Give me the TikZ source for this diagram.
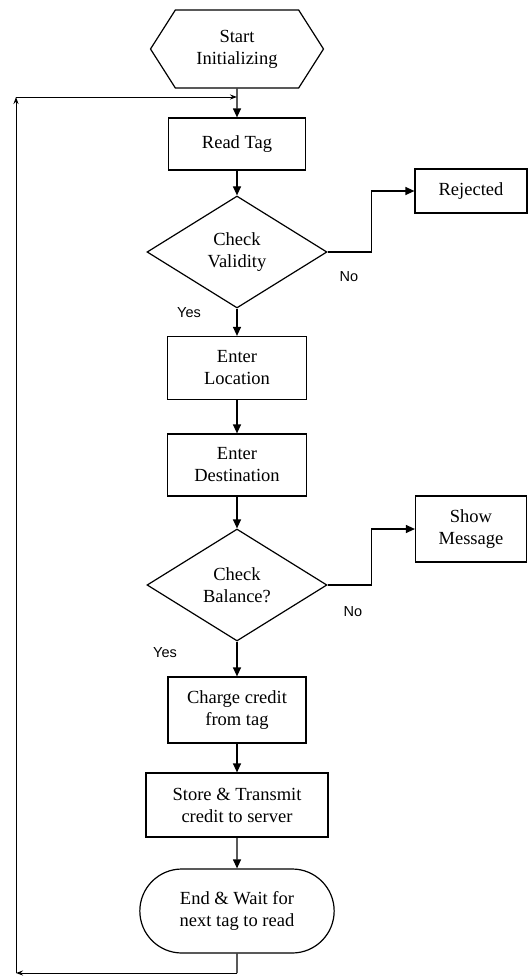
\documentclass[tikz,border=0pt]{standalone}
\usepackage{fontspec}
\setmainfont{Liberation Serif}
\newfontfamily\answerfont{Liberation Sans}
\usetikzlibrary{shapes.geometric,shapes.misc,shapes.symbols,arrows.meta}

\begin{document}
\begin{tikzpicture}[x=1pt,y=-1pt,
    line width=1.2pt,
    font=\fontsize{18.5}{22}\selectfont,
    box/.style={draw, rectangle, align=center, inner sep=2pt},
    decision/.style={draw, diamond, align=center, minimum width=180pt, minimum height=112pt, inner sep=0pt},
    hexa/.style={draw, signal, signal to=west and east, signal pointer angle=115, align=center, minimum width=173pt, minimum height=78pt},
    flow/.style={-{Triangle[length=9pt,width=8pt]}},
    loopline/.style={-{Stealth[length=7pt,width=5pt]}, line width=1pt},
    answer/.style={font=\answerfont\fontsize{14.5}{16}\selectfont}]
        \useasboundingbox (0,0) rectangle (529,977);

        % main column
        \node[hexa] (start) at (237,49) {Start\\Initializing};
        \node[box, minimum width=137pt, minimum height=52pt] (read) at (237,144) {Read Tag};
        \node[decision] (valid) at (237,252) {Check\\Validity};
        \node[box, minimum width=139pt, minimum height=63pt] (loc) at (237,368) {Enter\\Location};
        \node[box, minimum width=139pt, minimum height=62pt] (dest) at (237,465) {Enter\\Destination};
        \node[decision] (bal) at (237,585) {Check\\Balance?};
        \node[box, minimum width=138pt, minimum height=66pt] (charge) at (237,710) {Charge credit\\from tag};
        \node[box, minimum width=182pt, minimum height=64pt] (store) at (237,805) {Store \& Transmit\\credit to server};
        \node[draw, rounded rectangle, align=center, minimum width=201pt, minimum height=84pt] (finish) at (237,911) {End \& Wait for\\next tag to read};

        % side boxes
        \node[box, minimum width=112pt, minimum height=44pt] (rej) at (471,191) {Rejected};
        \node[box, minimum width=111pt, minimum height=66pt] (msg) at (471,529) {Show\\Message};

        % answers
        \node[answer] (yes1) at (189,313) {Yes};
        \node[answer] (no1) at (349,277) {No};
        \node[answer] (yes2) at (165,653) {Yes};
        \node[answer] (no2) at (353,612) {No};

        % loop corners
        \coordinate (retTop) at (237,97);
        \coordinate (retBot) at (237,973);
        \coordinate (cornerTL) at (16,97);
        \coordinate (cornerBL) at (16,973);

        % arrows
        \draw[flow] (start) -- (read);
        \draw[flow] (read) -- (valid);
        \draw[flow] (valid) -- (loc);
        \draw[flow] (valid.east) -- ++(44,0) |- (rej);
        \draw[flow] (loc) -- (dest);
        \draw[flow] (dest) -- (bal);
        \draw[flow] (bal.east) -- ++(44,0) |- (msg);
        \draw[flow] (bal) -- (charge);
        \draw[flow] (charge) -- (store);
        \draw[flow] (store) -- (finish);

        % back to start
        \draw (finish) -- (retBot);
        \draw[loopline] (retBot) -- (cornerBL);
        \draw[loopline] (cornerBL) -- (cornerTL);
        \draw[loopline] (cornerTL) -- (retTop);
    \end{tikzpicture}
\end{document}
